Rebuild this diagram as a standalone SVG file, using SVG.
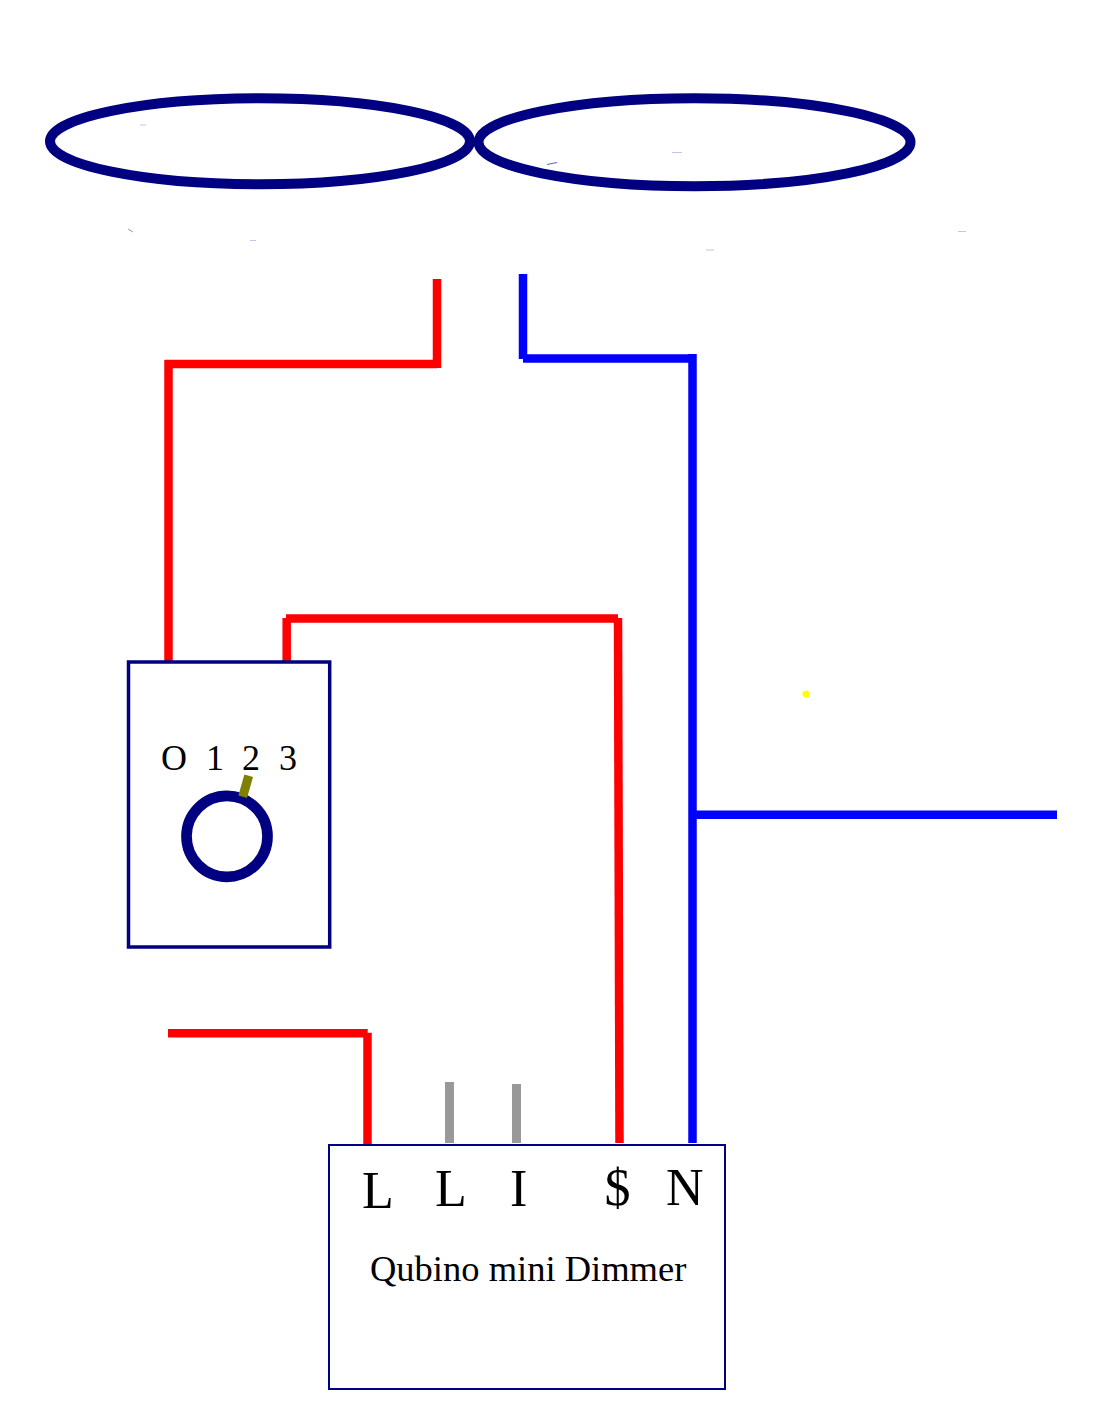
<svg xmlns="http://www.w3.org/2000/svg" width="1101" height="1428" viewBox="0 0 1101 1428">
<style>
.r{fill:none;stroke:#ff0000;stroke-width:8.500}
.b{fill:none;stroke:#0000ff;stroke-width:8.500}
.g{fill:none;stroke:#999999;stroke-width:9}
.n{fill:none;stroke:#000080}
.t{font-family:"Liberation Serif",serif;fill:#000}
.s{fill:none;stroke-width:1}
</style>
<rect width="1101" height="1428" fill="#fff"/>
<g id="lamp-left"><ellipse class="n" stroke-width="10" cx="260" cy="141.300" rx="210" ry="43"/></g>
<g id="lamp-right"><ellipse class="n" stroke-width="10" cx="694.500" cy="142.200" rx="216" ry="44"/></g>
<path class="s" stroke="#c4c4e8" d="M672 152.500H682M140 125H146M958 231.500H966M706 250H714M250 240.500H256"/>
<path class="s" stroke="#5a5ae0" d="M547 164.500L557 162.500"/>
<path class="s" stroke="#999999" d="M128 229L133 232"/>
<g id="connectors">
<path class="r" d="M437 279V368M437 364H165"/>
<path class="r" d="M168.500 360V662.500"/>
<path class="r" d="M286.700 618V661M286 618.500H618"/>
<path class="r" d="M618 618L619.500 1143"/>
<path class="r" d="M168 1033.300H367.700M367.500 1032.700V1146"/>
<path class="b" d="M523 274V359M523 358.500H692M692.500 354V1143M692 814.700H1057"/>
<path class="g" d="M449.500 1082V1143M516.500 1084V1143"/>
</g>
<g id="switch">
<rect class="n" stroke-width="3.500" x="128.500" y="662" width="201.200" height="285"/>
<text class="t" x="161" y="770" font-size="36">O</text>
<text class="t" x="206" y="770" font-size="36">1</text>
<text class="t" x="242" y="770" font-size="36">2</text>
<text class="t" x="279" y="770" font-size="36">3</text>
<circle class="n" stroke-width="10.700" cx="227" cy="836.300" r="40.500"/>
<path d="M248.700 775.700L242.700 796.700" fill="none" stroke="#808000" stroke-width="9"/>
</g>
<g id="dimmer">
<rect class="n" stroke-width="2" x="329" y="1145" width="396" height="244"/>
<text class="t" x="362" y="1208" font-size="52">L</text>
<text class="t" x="435" y="1206" font-size="52">L</text>
<text class="t" x="510" y="1206" font-size="52">I</text>
<text class="t" x="604.500" y="1205" font-size="52">$</text>
<text class="t" x="666" y="1205" font-size="52">N</text>
<text class="t" x="370" y="1281" font-size="36.500">Qubino mini Dimmer</text>
</g>
<circle id="dot" cx="806" cy="694" r="3.500" fill="#ffff00"/>
</svg>
